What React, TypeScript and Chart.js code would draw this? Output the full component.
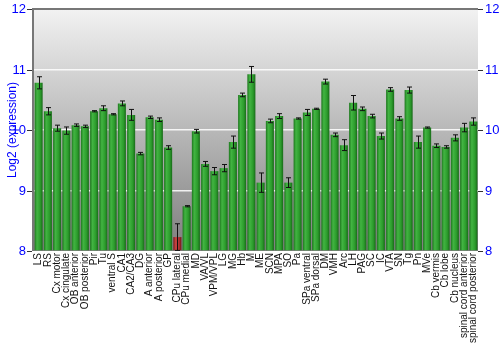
import React, { useEffect, useRef } from "react";
import { Chart, registerables } from "chart.js";

Chart.register(...registerables);

const categories = [
  "LS", "RS", "Cx motor", "Cx cingulate", "OB anterior", "OB posterior", "Pir", "Tu",
  "ventral S", "CA1", "CA2/CA3", "DG", "A anterior", "A posterior", "GP", "CPu lateral",
  "CPu medial", "MD", "VA/VL", "VPM/VPL", "LG", "MG", "Hb", "M", "ME", "SCN", "MPA", "SO",
  "Pa", "SPa ventral", "SPa dorsal", "DM", "VMH", "Arc", "LH", "PAG", "SC", "IC", "VTA",
  "SN", "Tg", "Pn", "MVe", "Cb vermis", "Cb lobe", "Cb nucleus", "spinal cord anterior",
  "spinal cord posterior",
];

const values = [
  10.78, 10.31, 10.03, 9.99, 10.08, 10.06, 10.31, 10.36,
  10.26, 10.44, 10.25, 9.61, 10.21, 10.17, 9.71, 8.23,
  8.74, 9.98, 9.44, 9.32, 9.37, 9.8, 10.58, 10.92, 9.13, 10.15, 10.23, 9.13,
  10.19, 10.29, 10.35, 10.8, 9.92, 9.75, 10.45, 10.35, 10.23, 9.9, 10.67,
  10.19, 10.66, 9.8, 10.04, 9.74, 9.72, 9.87, 10.04,
  10.14,
];

const errors = [
  0.1, 0.06, 0.05, 0.06, 0.02, 0.02, 0.01, 0.04,
  0.01, 0.04, 0.09, 0.02, 0.02, 0.03, 0.03, 0.22,
  0.01, 0.03, 0.04, 0.06, 0.06, 0.1, 0.03, 0.13, 0.16, 0.03, 0.04, 0.08,
  0.01, 0.05, 0.01, 0.04, 0.03, 0.09, 0.12, 0.03, 0.03, 0.05, 0.03,
  0.03, 0.05, 0.1, 0.01, 0.03, 0.02, 0.05, 0.07,
  0.06,
];

const highlighted = ["CPu lateral"];

const yMin = 8;
const yMax = 12;
const yStep = 1;

const FONT = "'Liberation Sans', Arial, sans-serif";

const framePlugin = {
  id: "frame",
  beforeDraw(chart: any) {
    const { ctx, chartArea } = chart;
    if (!chartArea) return;
    const g = ctx.createLinearGradient(0, chartArea.top, 0, chartArea.bottom);
    g.addColorStop(0, "#f2f2f2");
    g.addColorStop(1, "#7e7e7e");
    ctx.save();
    ctx.fillStyle = g;
    ctx.fillRect(chartArea.left, chartArea.top, chartArea.right - chartArea.left, chartArea.bottom - chartArea.top);
    ctx.restore();
  },
  afterDraw(chart: any) {
    const { ctx, chartArea } = chart;
    ctx.save();
    ctx.strokeStyle = "#777";
    ctx.lineWidth = 2;
    ctx.beginPath();
    ctx.moveTo(chartArea.left - 1, chartArea.bottom);
    ctx.lineTo(chartArea.left - 1, chartArea.top);
    ctx.lineTo(chartArea.right, chartArea.top);
    ctx.stroke();
    // tick marks and labels of both value axes, placed by the scales
    ctx.font = `13px ${FONT}`;
    ctx.fillStyle = "#0000ff";
    ctx.textBaseline = "middle";
    ctx.strokeStyle = "#333";
    ctx.lineWidth = 1;
    for (const id of ["y", "y2"]) {
      const s = chart.scales[id];
      const left = id === "y";
      s.ticks.forEach((t: any) => {
        const py = Math.round(s.getPixelForValue(t.value)) + 0.5;
        const x0 = left ? chartArea.left - 2 : chartArea.right;
        const x1 = left ? x0 - 5 : x0 + 5;
        ctx.beginPath();
        ctx.moveTo(x0, py);
        ctx.lineTo(x1, py);
        ctx.stroke();
        ctx.textAlign = left ? "right" : "left";
        ctx.fillText(String(t.value), left ? x1 - 1 : x1 + 2, py);
      });
    }
    ctx.restore();
  },
};

const errorPlugin = {
  id: "errorBars",
  afterDatasetsDraw(chart: any) {
    const { ctx, chartArea } = chart;
    const meta = chart.getDatasetMeta(0);
    const y = chart.scales.y;
    ctx.save();
    ctx.beginPath();
    ctx.rect(chartArea.left, chartArea.top, chartArea.right - chartArea.left, chartArea.bottom - chartArea.top);
    ctx.clip();
    ctx.strokeStyle = "#111";
    ctx.lineWidth = 1;
    meta.data.forEach((bar: any, i: number) => {
      const x = Math.round(bar.x) + 0.5;
      const top = y.getPixelForValue(values[i] + errors[i]);
      const bot = y.getPixelForValue(values[i] - errors[i]);
      ctx.beginPath();
      ctx.moveTo(x, top);
      ctx.lineTo(x, bot);
      ctx.moveTo(x - 2.5, top);
      ctx.lineTo(x + 2.5, top);
      ctx.moveTo(x - 2.5, bot);
      ctx.lineTo(x + 2.5, bot);
      ctx.stroke();
    });
    ctx.restore();
  },
};

function barFill(context: any) {
  const chart = context.chart;
  const i = context.dataIndex;
  const red = highlighted.includes(categories[i]);
  const xs = chart.scales && chart.scales.x;
  const area = chart.chartArea;
  if (!xs || !area) return red ? "#b03030" : "#2e9a2e";
  const cx = xs.getPixelForValue(i);
  const w = ((area.right - area.left) / categories.length) * 0.87;
  const g = chart.ctx.createLinearGradient(cx - w / 2, 0, cx + w / 2, 0);
  if (red) {
    g.addColorStop(0, "#7a1818");
    g.addColorStop(0.3, "#c84444");
    g.addColorStop(0.7, "#b03232");
    g.addColorStop(1, "#701616");
  } else {
    g.addColorStop(0, "#1d761d");
    g.addColorStop(0.3, "#42b442");
    g.addColorStop(0.7, "#2c9c2c");
    g.addColorStop(1, "#186a18");
  }
  return g;
}

export default function App() {
  const ref = useRef<HTMLCanvasElement | null>(null);
  useEffect(() => {
    if (!ref.current) return;
    const chart = new Chart(ref.current, {
      type: "bar",
      data: {
        labels: categories,
        datasets: [
          {
            data: values,
            backgroundColor: barFill as any,
            borderColor: "rgba(0,0,0,0)",
            borderWidth: 0,
            barPercentage: 0.87,
            categoryPercentage: 1,
            base: yMin,
          },
        ],
      },
      options: {
        animation: false,
        responsive: false,
        maintainAspectRatio: false,
        events: [],
        layout: { padding: { top: 9, left: 5, right: 0, bottom: 0 } },
        plugins: { legend: { display: false }, tooltip: { enabled: false } },
        scales: {
          x: {
            grid: { display: false, drawTicks: false },
            border: { display: false },
            afterFit: (s: any) => {
              s.height = 99;
            },
            ticks: {
              autoSkip: false,
              minRotation: 90,
              maxRotation: 90,
              padding: 2,
              color: "#111",
              font: { family: FONT, size: 10 },
            },
          },
          y: {
            position: "left",
            min: yMin,
            max: yMax,
            afterFit: (s: any) => {
              s.width = 29;
            },
            border: { display: false },
            grid: {
              drawTicks: false,
              color: (c: any) =>
                c.tick && (c.tick.value === yMax || c.tick.value === yMin) ? "rgba(0,0,0,0)" : "rgba(255,255,255,0.85)",
              lineWidth: 1.5,
            },
            ticks: { stepSize: yStep, display: false },
            title: {
              display: true,
              text: "Log2 (expression)",
              color: "#0000ff",
              padding: { top: 0, bottom: 2 },
              font: { family: FONT, size: 12 },
            },
          },
          y2: {
            position: "right",
            min: yMin,
            max: yMax,
            afterFit: (s: any) => {
              s.width = 22;
            },
            border: { display: false },
            grid: { display: false },
            ticks: { stepSize: yStep, display: false },
          },
        },
      },
      plugins: [framePlugin, errorPlugin],
    });
    return () => chart.destroy();
  }, []);
  return (
    <div style={{ position: "fixed", left: 0, top: 0, width: 500, height: 350, background: "#fff" }}>
      <canvas ref={ref} width={500} height={350} style={{ width: 500, height: 350 }} />
    </div>
  );
}
